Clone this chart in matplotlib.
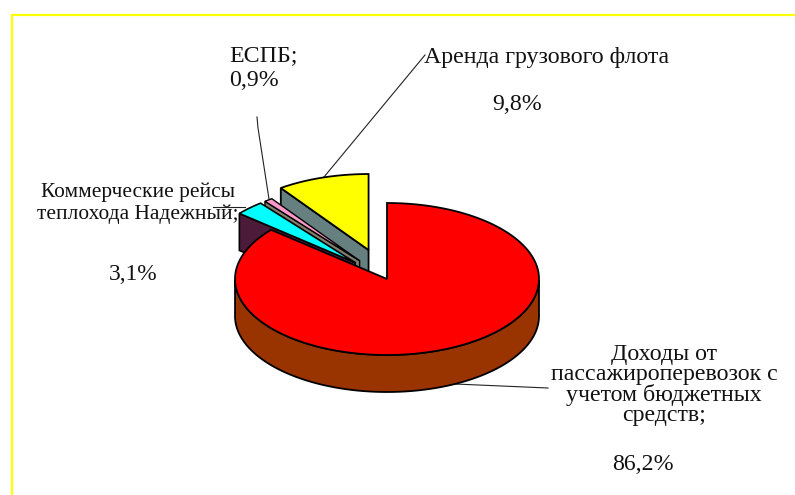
import numpy as np
import matplotlib
matplotlib.use("Agg")
import matplotlib.pyplot as plt
from matplotlib.patches import Polygon

# Data (shares, %), counter-clockwise from 12 o'clock
names = ["Аренда грузового флота", "ЕСПБ;", "Коммерческие рейсы\nтеплохода Надежный;",
         "Доходы от\nпассажироперевозок с\nучетом бюджетных\nсредств;"]
values = [9.8, 0.9, 3.1, 86.2]


def pct(v):
    return f"{v:.1f}%".replace(".", ",")


explode = [0.40, 0.30, 0.30, 0.0]
top_colors = ["#FFFF00", "#FF99CC", "#00FFFF", "#FF0000"]
side_colors = ["#668080", "#807F70", "#4D1B3A", "#993300"]
edge_widths = [1.3, 1.0, 1.2, 1.3]

W, H = 795, 495
CX, CY, RX, RY, DEPTH = 387, 279, 152, 76, 37
FRAME = "#FFFF00"

# text, x, y, horizontal alignment, font size, line spacing
placed_labels = [
    (names[1] + "\n" + pct(values[1]), 229, 68, "left", 17.2, 1.22),
    (names[0], 547, 57, "center", 17.2, 1.0),
    (pct(values[0]), 517, 105, "center", 17.2, 1.0),
    (names[2], 138, 203, "center", 15.4, 1.2),
    (pct(values[2]), 133, 274, "center", 16.8, 1.0),
    (names[3], 664, 385, "center", 17.2, 0.93),
    (pct(values[3]), 643, 464, "center", 17.2, 1.0),
]
leaders = [
    ([324, 425], [177, 55]),
    ([269, 258, 257], [199, 128, 117]),
    ([213, 245], [207, 207]),
    ([455, 548], [384, 388]),
]

plt.rcParams["font.family"] = ["Liberation Serif", "DejaVu Serif"]
fig = plt.figure(figsize=(W / 100, H / 100), dpi=100, facecolor="white")
ax = fig.add_axes([0, 0, 1, 1])
ax.set_xlim(0, W)
ax.set_ylim(H, 0)
ax.axis("off")

ax.plot([11.5, 11.5, W], [H, 14.5, 14.5], color=FRAME, lw=1.6, solid_capstyle="butt",
        solid_joinstyle="miter", zorder=1)


def pt(cx, cy, a):
    return cx - RX * np.sin(a), cy - RY * np.cos(a)


start = 0.0
for v, e, tc, sc, lw in zip(values, explode, top_colors, side_colors, edge_widths):
    a0 = start
    a1 = start + v / 100 * 2 * np.pi
    start = a1
    mid = (a0 + a1) / 2
    cx, cy = pt(CX, CY, mid)
    cx, cy = CX + (cx - CX) * e, CY + (cy - CY) * e
    t = np.linspace(a0, a1, 240)
    ox, oy = pt(cx, cy, t)
    ex, ey = pt(cx, cy, a1)
    if v < 50:
        ax.add_patch(Polygon([(cx, cy), (ex, ey), (ex, ey + DEPTH), (cx, cy + DEPTH)],
                             closed=True, fc=sc, ec="black", lw=lw, zorder=3))
    vis = (t > np.pi / 2) & (t < 3 * np.pi / 2)
    if vis.any():
        wx, wy = ox[vis], oy[vis]
        ax.add_patch(Polygon(np.r_[np.c_[wx, wy], np.c_[wx, wy + DEPTH][::-1]],
                             closed=True, fc=sc, ec="black", lw=lw, zorder=3))
    ax.add_patch(Polygon(np.r_[[(cx, cy)], np.c_[ox, oy]], closed=True, fc=tc, ec="black",
                         lw=lw, joinstyle="miter", zorder=3))

for xs, ys in leaders:
    ax.plot(xs, ys, color="#222222", lw=0.8, zorder=2)

for text, x, y, ha, size, spacing in placed_labels:
    ax.text(x, y, text, ha=ha, va="center", fontsize=size, color="#111111",
            linespacing=spacing, zorder=5)
fig.savefig("out.png", dpi=100, facecolor="white")
